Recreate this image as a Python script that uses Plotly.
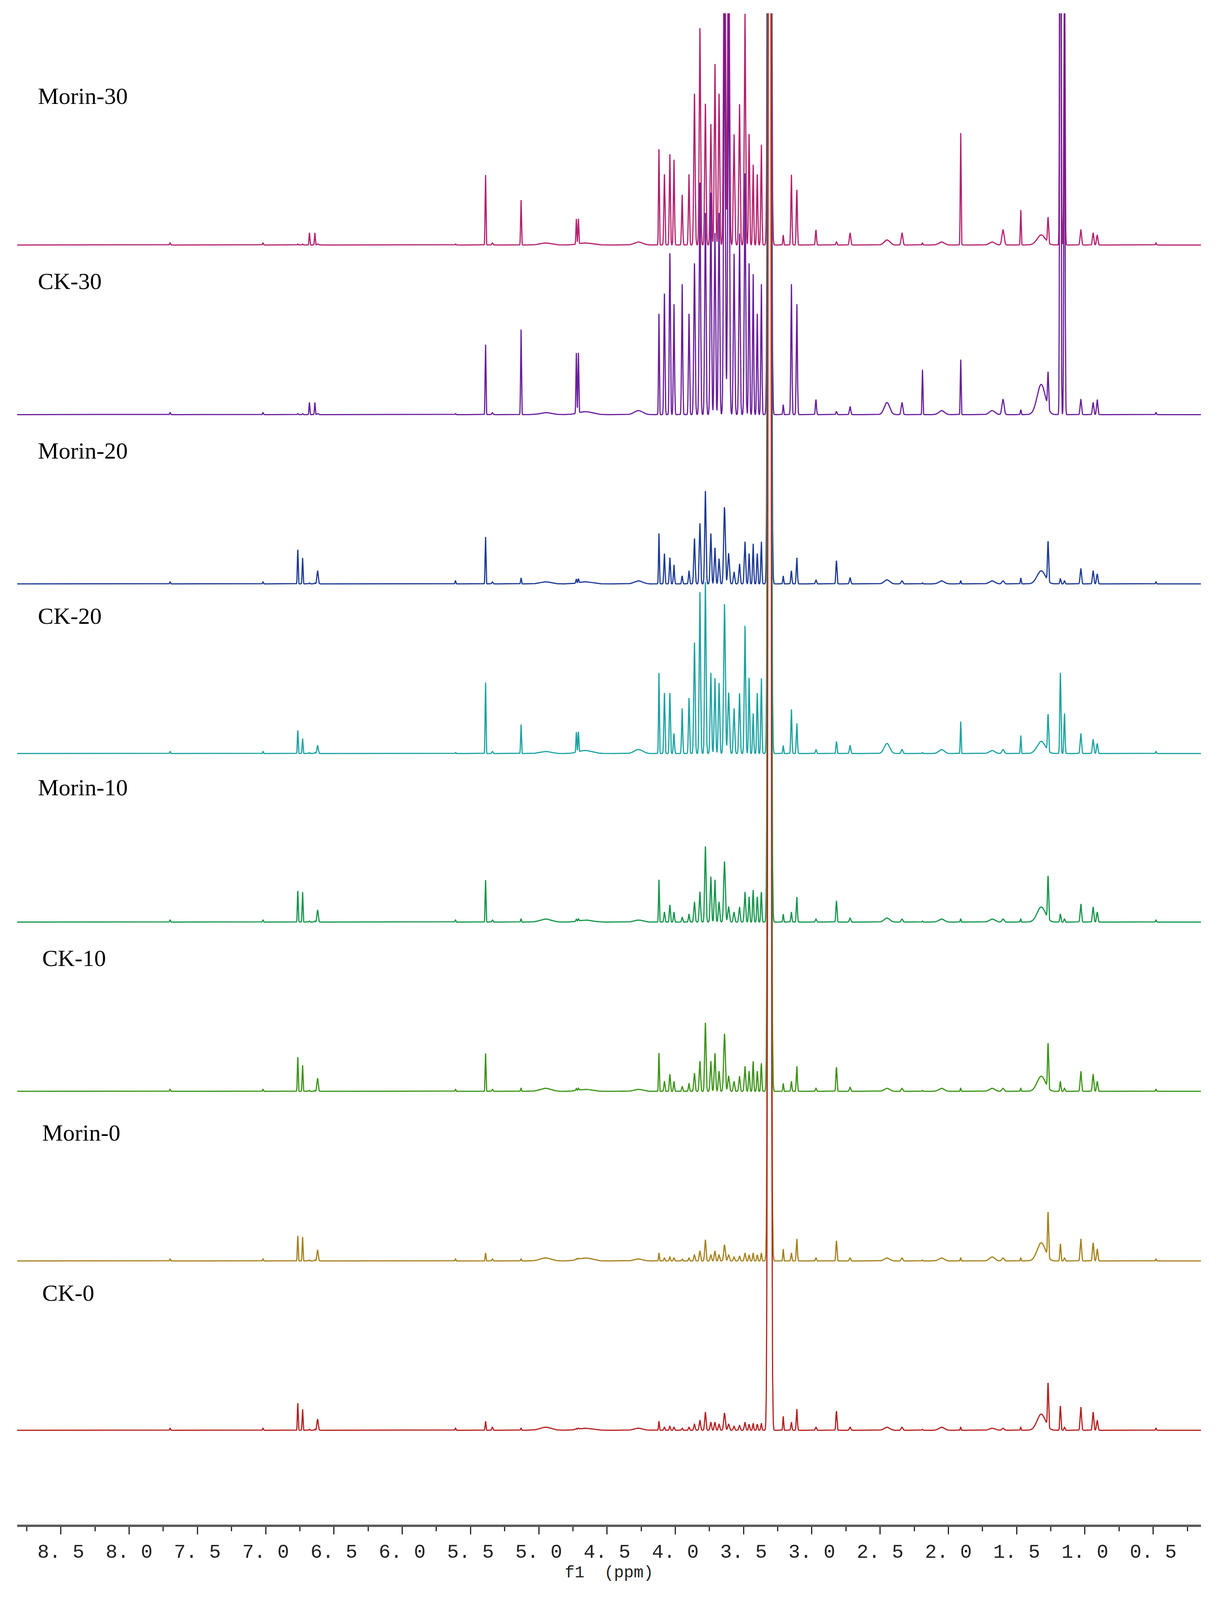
import numpy as np
import plotly.graph_objects as go

# ---------------- data ----------------
samples = ["Morin-30", "CK-30", "Morin-20", "CK-20", "Morin-10", "CK-10", "Morin-0", "CK-0"]
colors = ["#b5206e", "#6a1e9c", "#1c3a96", "#1ba3a3", "#13964a", "#3b9416", "#a5801a", "#b51f1f"]

# peak centres (ppm) and half widths (ppm)
peak_ppm = [7.70, 7.02, 6.765, 6.73, 6.68, 6.64, 6.62, 5.61, 5.39, 5.34, 5.13, 4.95, 4.66, 4.725, 4.71,
            4.27, 4.12, 4.08, 4.04, 4.01, 3.95, 3.90, 3.86, 3.82, 3.78, 3.74, 3.71, 3.68, 3.64, 3.61,
            3.57, 3.53, 3.49, 3.46, 3.43, 3.40, 3.37, 3.31, 3.21, 3.15, 3.11, 2.97, 2.82, 2.72, 2.45,
            2.34, 2.19, 2.05, 1.91, 1.68, 1.60, 1.47, 1.32, 1.27, 1.18, 1.15, 1.03, 0.94, 0.91, 0.48]
peak_width = [0.003, 0.003, 0.003, 0.003, 0.003, 0.003, 0.005, 0.003, 0.003, 0.004, 0.003, 0.04, 0.05, 0.003, 0.003,
              0.03, 0.003, 0.004, 0.004, 0.004, 0.004, 0.004, 0.005, 0.005, 0.005, 0.005, 0.005, 0.005, 0.006, 0.006,
              0.005, 0.005, 0.005, 0.004, 0.004, 0.004, 0.004, 0.008, 0.003, 0.004, 0.004, 0.004, 0.004, 0.005, 0.02,
              0.006, 0.003, 0.02, 0.003, 0.02, 0.008, 0.003, 0.03, 0.004, 0.004, 0.004, 0.005, 0.005, 0.005, 0.003]

# peak heights per sample (same order as peak_ppm)
h_m30 = [2, 2, 1, 1, 12, 12, 1, 1, 70, 2, 45, 2, 2, 25, 25,
         3, 95, 70, 90, 85, 50, 70, 150, 215, 140, 120, 180, 150, 400, 400,
         110, 140, 230, 110, 80, 70, 100, 3000, 10, 70, 55, 15, 3, 12, 5,
         12, 2, 3, 112, 3, 15, 35, 10, 25, 900, 300, 15, 12, 10, 2]
h_ck30 = [2, 2, 1, 1, 12, 12, 1, 1, 70, 2, 85, 2, 3, 60, 60,
          4, 100, 120, 160, 110, 130, 100, 150, 230, 200, 220, 180, 200, 400, 400,
          160, 180, 240, 150, 140, 100, 130, 3000, 10, 130, 110, 15, 3, 8, 12,
          12, 45, 4, 55, 4, 15, 5, 30, 35, 900, 400, 15, 12, 15, 2]
h_m20 = [2, 2, 34, 26, 1, 1, 13, 3, 47, 2, 6, 2, 2, 4, 4,
         3, 50, 30, 26, 19, 8, 13, 45, 60, 92, 50, 36, 25, 76, 30,
         12, 20, 42, 30, 40, 30, 42, 3000, 8, 13, 26, 4, 23, 6, 4,
         3, 1, 3, 3, 3, 3, 6, 13, 39, 5, 3, 15, 13, 10, 2]
h_ck20 = [2, 2, 23, 15, 1, 1, 8, 1, 71, 2, 29, 2, 3, 20, 20,
          4, 80, 60, 60, 20, 45, 55, 110, 160, 170, 80, 75, 70, 148, 60,
          45, 60, 127, 75, 40, 60, 75, 3000, 8, 44, 30, 4, 12, 8, 10,
          4, 1, 4, 32, 3, 4, 18, 12, 36, 80, 40, 20, 14, 10, 2]
h_m10 = [2, 2, 31, 30, 1, 1, 12, 2, 42, 2, 3, 3, 2, 2, 2,
         2, 42, 10, 17, 10, 5, 8, 20, 30, 75, 45, 42, 20, 60, 15,
         10, 15, 30, 25, 32, 25, 30, 3000, 8, 10, 25, 3, 21, 4, 4,
         3, 1, 3, 3, 3, 3, 3, 15, 42, 8, 3, 18, 15, 10, 2]
h_ck10 = [2, 2, 34, 26, 1, 1, 13, 2, 38, 2, 3, 3, 2, 2, 2,
          2, 38, 10, 17, 10, 5, 8, 18, 30, 68, 30, 38, 20, 57, 15,
          10, 15, 25, 20, 30, 20, 28, 3000, 8, 10, 25, 3, 24, 4, 3,
          3, 1, 3, 3, 3, 3, 3, 15, 44, 10, 3, 20, 17, 10, 2]
h_m0 = [2, 2, 25, 24, 1, 1, 11, 2, 8, 2, 2, 3, 3, 1, 1,
        2, 8, 3, 4, 3, 2, 3, 6, 10, 21, 6, 10, 6, 16, 6,
        4, 5, 8, 6, 8, 6, 8, 3000, 12, 8, 22, 3, 20, 3, 3,
        3, 1, 3, 3, 4, 3, 3, 18, 44, 17, 3, 22, 18, 12, 2]
h_ck0 = [2, 2, 27, 21, 1, 1, 11, 2, 9, 3, 2, 3, 2, 1, 1,
         2, 9, 3, 4, 3, 2, 3, 6, 10, 18, 8, 8, 6, 17, 6,
         4, 5, 8, 6, 7, 6, 7, 3000, 14, 8, 21, 3, 19, 3, 3,
         3, 1, 3, 3, 2, 2, 3, 16, 43, 24, 3, 23, 18, 10, 2]
heights = [h_m30, h_ck30, h_m20, h_ck20, h_m10, h_ck10, h_m0, h_ck0]

tick_vals = [8.5, 8.0, 7.5, 7.0, 6.5, 6.0, 5.5, 5.0, 4.5, 4.0, 3.5, 3.0, 2.5, 2.0, 1.5, 1.0, 0.5]
tick_text = ["8. 5", "8. 0", "7. 5", "7. 0", "6. 5", "6. 0", "5. 5", "5. 0", "4. 5", "4. 0",
             "3. 5", "3. 0", "2. 5", "2. 0", "1. 5", "1. 0", "0. 5"]

# ---------------- layout helpers ----------------
W = 3100
ks = 0.94                                   # vertical fit factor for the visible viewport
H = int(4304 * ks)
axis_y = 4144 * ks
top_px = 28 * ks
px = 2.747 * ks
baseline_px = [659, 1121, 1582, 2044, 2503, 2964, 3426, 3887]
label_px = [(88, 253), (88, 758), (88, 1220), (88, 1670), (88, 2137), (99, 2601), (99, 3077), (99, 3513)]

x = np.arange(8.82, 0.15, -0.0008)
fig = go.Figure()
pp = np.array(peak_ppm)
pw = np.array(peak_width)
for name, col, hs, b in zip(samples, colors, heights, baseline_px):
    hs = np.array(hs, dtype=float)
    y = np.zeros_like(x)
    for c, w, h in zip(pp, pw, hs):
        y += h * np.exp(-0.5 * ((x - c) / w) ** 2)
    fig.add_trace(go.Scatter(x=x, y=(axis_y - b * ks) + y * px, mode="lines",
                             line=dict(color=col, width=3), name=name, showlegend=False,
                             hoverinfo="skip"))

for name, (lx, ly) in zip(samples, label_px):
    fig.add_annotation(x=8.5 + (149 - lx) / 350.0, y=axis_y - ly * ks, xref="x", yref="y",
                       text=name, showarrow=False, xanchor="left", yanchor="middle",
                       font=dict(family="Liberation Serif", size=60, color="black"))

fig.update_layout(
    width=W, height=H, paper_bgcolor="white", plot_bgcolor="white",
    margin=dict(l=36, r=34, t=top_px, b=H - axis_y),
    xaxis=dict(range=[8.82, 0.15], showgrid=False, zeroline=False,
               showline=True, linewidth=6, linecolor="#5a5a5a",
               tickvals=tick_vals, ticktext=tick_text, ticks="outside", ticklen=19,
               tickwidth=3, tickcolor="#222",
               minor=dict(dtick=0.25, tick0=0, ticks="outside", ticklen=11, tickwidth=3, tickcolor="#222"),
               tickfont=dict(family="Liberation Mono", size=50, color="#222"),
               title=dict(text="f1  (ppm)", font=dict(family="Liberation Mono", size=42, color="#222"),
                          standoff=2)),
    yaxis=dict(range=[0, axis_y - top_px], visible=False, showgrid=False, zeroline=False),
)
fig.write_html("out.html")
